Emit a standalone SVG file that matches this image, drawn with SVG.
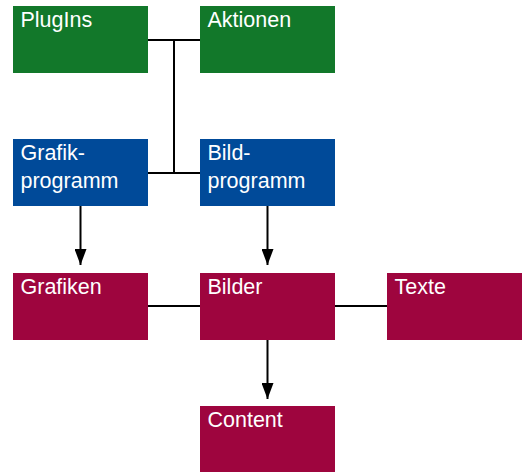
<svg xmlns="http://www.w3.org/2000/svg" width="522" height="472" viewBox="0 0 522 472">
<style>
.g{fill:#12782a}.b{fill:#004a99}.r{fill:#9e053e}
text{font-family:"Liberation Sans",Arial,sans-serif;font-size:21.5px;fill:#fff}
.c{stroke:#000;stroke-width:2;fill:none}
</style>
<defs>
<marker id="ah" markerWidth="16" markerHeight="12" refX="16" refY="6" orient="auto" markerUnits="userSpaceOnUse" viewBox="0 0 16 12">
<path d="M0,0 L16,6 L0,12 Z" fill="#000"/>
</marker>
</defs>
<rect width="522" height="472" fill="#fff"/>
<g id="connectors">
<path class="c" d="M148,40 H200"/>
<path class="c" d="M174,40 V173"/>
<path class="c" d="M148,173 H200"/>
<path class="c" d="M80.5,206 V265" marker-end="url(#ah)"/>
<path class="c" d="M267.5,206 V265" marker-end="url(#ah)"/>
<path class="c" d="M148,306 H200"/>
<path class="c" d="M335,306 H387"/>
<path class="c" d="M267.5,340 V399" marker-end="url(#ah)"/>
</g>
<g id="plugins"><rect class="g" x="13" y="6" width="135" height="67"/><text x="20.5" y="27">PlugIns</text></g>
<g id="aktionen"><rect class="g" x="200" y="6" width="135" height="67"/><text x="207.5" y="27">Aktionen</text></g>
<g id="grafikprogramm"><rect class="b" x="13" y="139" width="135" height="67"/><text x="20.5" y="160">Grafik-</text><text x="20.5" y="188">programm</text></g>
<g id="bildprogramm"><rect class="b" x="200" y="139" width="135" height="67"/><text x="207.5" y="160">Bild-</text><text x="207.5" y="188">programm</text></g>
<g id="grafiken"><rect class="r" x="13" y="273" width="135" height="67"/><text x="20.5" y="293.5">Grafiken</text></g>
<g id="bilder"><rect class="r" x="200" y="273" width="135" height="67"/><text x="207.5" y="293.5">Bilder</text></g>
<g id="texte"><rect class="r" x="387" y="273" width="135" height="67"/><text x="394.5" y="293.5">Texte</text></g>
<g id="content"><rect class="r" x="200" y="406" width="135" height="66"/><text x="207.5" y="426.5">Content</text></g>
</svg>
